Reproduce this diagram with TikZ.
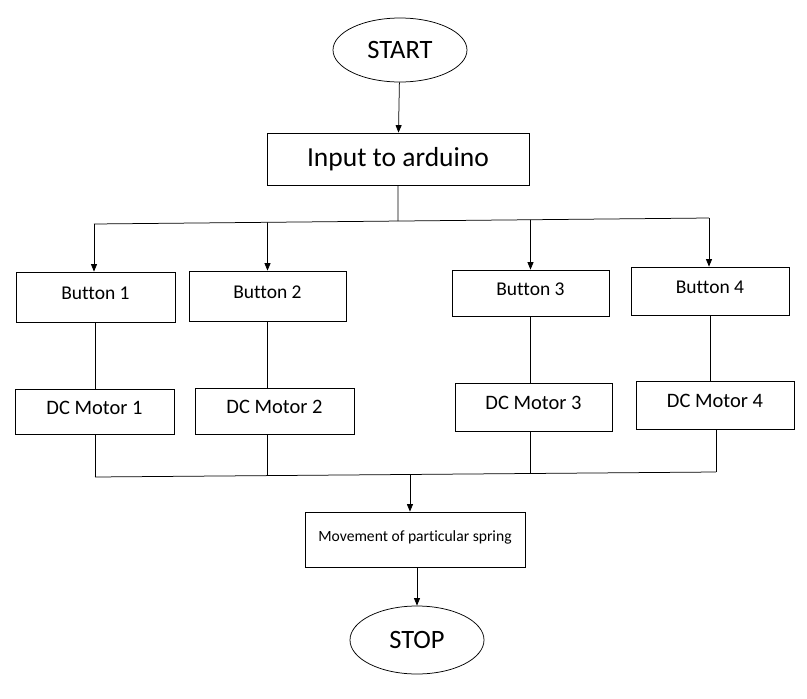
\documentclass[tikz,border=0pt]{standalone}
\usepackage{fontspec}
\setmainfont{Carlito}[Ligatures=CommonOff]
\usetikzlibrary{arrows.meta,shapes.geometric,calc}
\begin{document}
\begin{tikzpicture}[x=1pt,y=-1pt, line width=0.75pt,
  box/.style={draw, rectangle, inner sep=0pt, text height=13pt, text depth=8pt, font=\fontsize{19.5}{22}\selectfont},
  motor/.style={box, font=\fontsize{20.5}{24}\selectfont},
  term/.style={draw, ellipse, inner sep=0pt, minimum width=134pt, font=\fontsize{26.5}{30}\selectfont},
  arr/.style={-{Triangle[length=7.5pt,width=6pt]}}]
\useasboundingbox (0,0) rectangle (807,699);
% nodes
\node[term, minimum height=64pt] (start) at (400,50) {START};
\node[draw, rectangle, inner sep=0pt, minimum width=262pt, minimum height=52pt, font=\fontsize{27.5}{32}\selectfont] (inp) at (398,159) {Input to arduino};
\node[box, minimum width=159pt, minimum height=50pt] (b1) at (95.5,297) {Button 1};
\node[box, minimum width=157pt, minimum height=50pt] (b2) at (267.5,296) {Button 2};
\node[box, minimum width=157pt, minimum height=46pt] (b3) at (530.5,293) {Button 3};
\node[box, minimum width=158pt, minimum height=48pt] (b4) at (710,291) {Button 4};
\node[motor, minimum width=159pt, minimum height=45pt] (m1) at (94.5,411.5) {DC Motor 1};
\node[motor, minimum width=159pt, minimum height=46pt] (m2) at (274.5,411) {DC Motor 2};
\node[motor, minimum width=157pt, minimum height=48pt] (m3) at (533.5,407) {DC Motor 3};
\node[motor, minimum width=158pt, minimum height=48pt] (m4) at (715,405) {DC Motor 4};
\node[draw, rectangle, inner sep=0pt, minimum width=220pt, minimum height=55pt, text height=11pt, text depth=8pt, font=\fontsize{15.6}{18}\selectfont] (mv) at (415,539.5) {Movement of particular spring};
\node[term, minimum height=68pt] (stop) at (417,640) {STOP};
% bus coordinates
\coordinate (tl) at (94,224);
\coordinate (tr) at (709,218);
\coordinate (bl) at (95,477);
\coordinate (br) at (716,472);
\coordinate (topbus) at (intersection of tl--tr and inp.south--inp.north);
\coordinate (t2) at (intersection of tl--tr and b2.south--b2.north);
\coordinate (t3) at (intersection of tl--tr and b3.south--b3.north);
\coordinate (u2) at (intersection of bl--br and b2.south--b2.north);
\coordinate (u3) at (intersection of bl--br and b3.south--b3.north);
\coordinate (botbus) at (intersection of bl--br and 410,400--410,500);
% connectors
\draw[arr] (start) -- (inp);
\draw (inp.south) -- (topbus);
\draw (tl) -- (tr);
\draw[arr] (tl) -- (tl |- b1.north);
\draw[arr] (t2) -- (b2.north);
\draw[arr] (t3) -- (b3.north);
\draw[arr] (tr) -- (tr |- b4.north);
\draw (b1.south) -- (b1.south |- m1.north);
\draw (b2.south) -- (b2.south |- m2.north);
\draw (b3.south) -- (b3.south |- m3.north);
\draw (b4.south) -- (b4.south |- m4.north);
\draw (m1.south -| bl) -- (bl);
\draw (m2.south -| b2) -- (u2);
\draw (m3.south -| b3) -- (u3);
\draw (m4.south -| br) -- (br);
\draw (bl) -- (br);
\draw[arr] (botbus) -- (botbus |- mv.north);
\draw[arr] (mv.south -| stop) -- (stop);
\end{tikzpicture}
\end{document}
